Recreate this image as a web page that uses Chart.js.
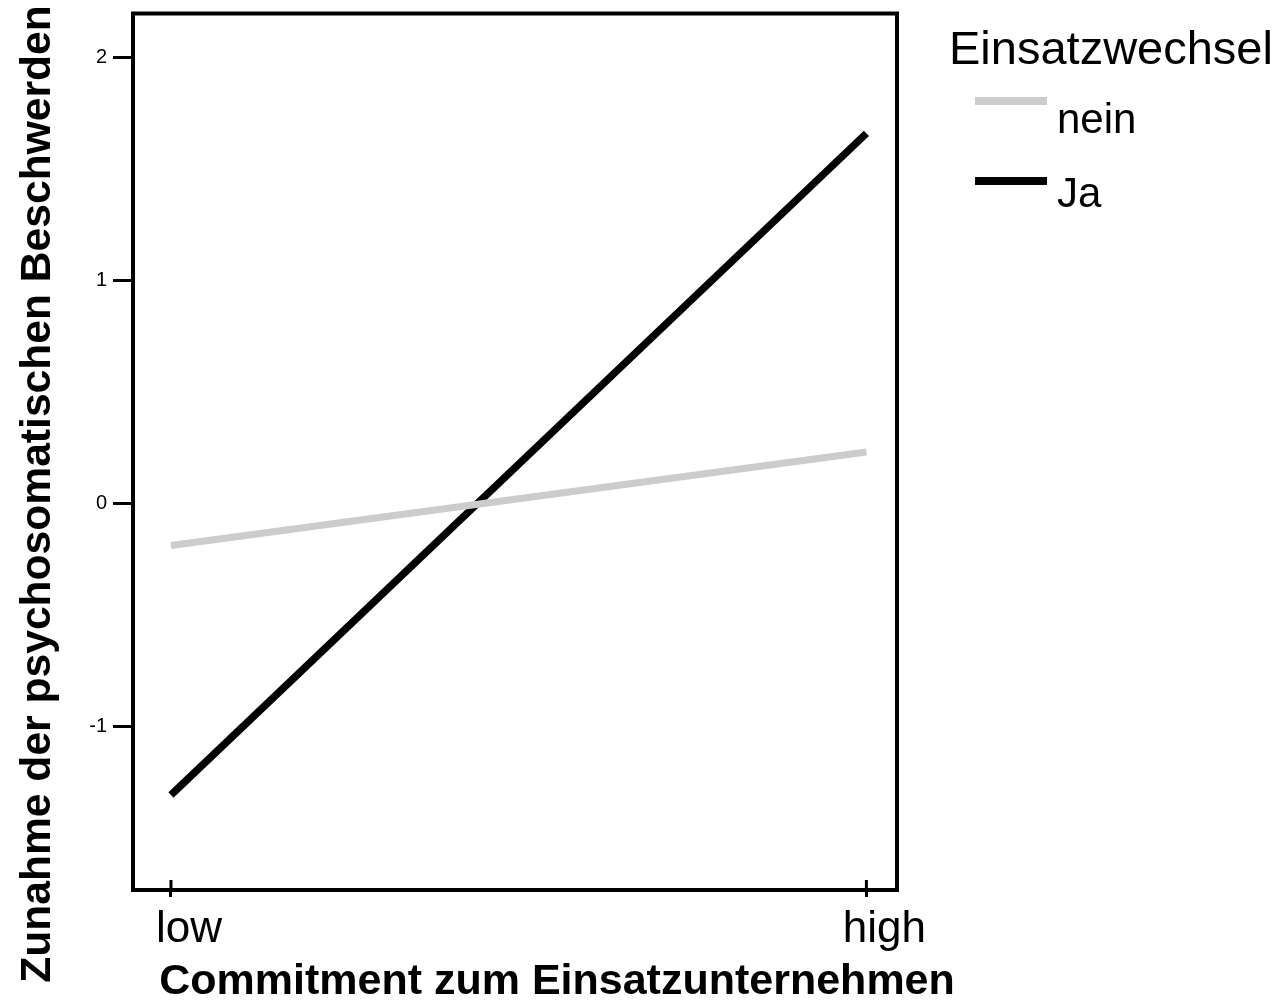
<!DOCTYPE html>
<html>
<head>
<meta charset="utf-8">
<script src="https://cdn.jsdelivr.net/npm/chart.js@4.4.1/dist/chart.umd.min.js"></script>
<style>
  html, body { margin: 0; padding: 0; background: #fff; }
  #wrap { width: 1284px; height: 1004px; position: relative; }
</style>
</head>
<body>
<div id="wrap"><canvas id="myChart"></canvas></div>
<script>
const xLabels = ['low', 'high'];
const xPositions = [0, 1];
const yTicks = [-1, 0, 1, 2];
const seriesNames = ['nein', 'Ja'];
const neinValues = [-0.19, 0.23];
const jaValues = [-1.31, 1.66];

const xTitle = 'Commitment zum Einsatzunternehmen';
const yTitle = 'Zunahme der psychosomatischen Beschwerden';
const legendTitle = 'Einsatzwechsel';

const FONT = '"Liberation Sans", Arial, Helvetica, sans-serif';

// frame, inner part of x ticks, axis titles and legend
const framePlugin = {
    id: 'framePlugin',
    afterDraw(chart) {
        const ctx = chart.ctx;
        const a = chart.chartArea;
        ctx.save();
        ctx.strokeStyle = '#000';
        ctx.lineWidth = 4;
        ctx.beginPath();
        ctx.moveTo(a.left - 2, a.top);
        ctx.lineTo(a.right, a.top);
        ctx.lineTo(a.right, a.bottom + 2);
        ctx.stroke();

        // x ticks cross the axis line
        const xs = chart.scales.x;
        ctx.lineWidth = 3;
        xs.ticks.forEach(t => {
            const px = xs.getPixelForValue(t.value);
            ctx.beginPath();
            ctx.moveTo(px, a.bottom - 10);
            ctx.lineTo(px, a.bottom);
            ctx.stroke();
        });

        ctx.fillStyle = '#000';
        // y title
        ctx.font = 'bold 42.6px ' + FONT;
        ctx.textAlign = 'center';
        ctx.textBaseline = 'alphabetic';
        ctx.save();
        ctx.translate(50, 494);
        ctx.rotate(-Math.PI / 2);
        ctx.fillText(yTitle, 0, 0);
        ctx.restore();
        // x title
        ctx.font = 'bold 43px ' + FONT;
        ctx.fillText(xTitle, 557, 994);

        // legend
        ctx.textAlign = 'left';
        ctx.font = '47px ' + FONT;
        ctx.fillText(legendTitle, 949, 64);
        const rows = [{ lineY: 101, textY: 133 }, { lineY: 181, textY: 207 }];
        ctx.font = '42px ' + FONT;
        chart.data.datasets.forEach((ds, i) => {
            ctx.strokeStyle = ds.borderColor;
            ctx.lineWidth = 8;
            ctx.beginPath();
            ctx.moveTo(975, rows[i].lineY);
            ctx.lineTo(1047, rows[i].lineY);
            ctx.stroke();
            ctx.fillText(ds.label, 1057, rows[i].textY);
        });
        ctx.restore();
    }
};

const toPoints = values => values.map((v, i) => ({ x: xPositions[i], y: v }));

new Chart(document.getElementById('myChart').getContext('2d'), {
    type: 'line',
    data: {
        datasets: [
            { label: seriesNames[0], data: toPoints(neinValues), borderColor: '#cccccc', borderWidth: 7, pointRadius: 0, fill: false },
            { label: seriesNames[1], data: toPoints(jaValues), borderColor: '#000000', borderWidth: 7.5, pointRadius: 0, fill: false }
        ]
    },
    options: {
        responsive: true,
        maintainAspectRatio: false,
        animation: false,
        layout: { padding: { left: 0, top: 13.5, right: 387, bottom: 0 } },
        plugins: {
            legend: { display: false },
            tooltip: { enabled: false }
        },
        scales: {
            x: {
                type: 'linear',
                min: -0.0546,
                max: 1.044,
                afterBuildTicks: scale => { scale.ticks = xPositions.map(v => ({ value: v })); },
                afterFit: scale => {
                    scale.height = 114;
                    scale.paddingLeft = 0;
                    scale.paddingRight = 0;
                },
                ticks: {
                    callback: value => xLabels[xPositions.indexOf(value)],
                    font: { family: FONT, size: 44 },
                    color: '#000',
                    padding: 6,
                    labelOffset: 18,
                    maxRotation: 0,
                    autoSkip: false
                },
                grid: { display: true, drawOnChartArea: false, drawTicks: true, tickLength: 7, tickWidth: 3, tickColor: '#000' },
                border: { display: true, width: 4, color: '#000' }
            },
            y: {
                min: -1.736,
                max: 2.198,
                afterBuildTicks: scale => { scale.ticks = yTicks.map(v => ({ value: v })); },
                afterFit: scale => {
                    scale.width = 133;
                    scale.paddingTop = 0;
                    scale.paddingBottom = 0;
                },
                ticks: {
                    font: { family: FONT, size: 20 },
                    color: '#000',
                    padding: 6
                },
                grid: { display: true, drawOnChartArea: false, drawTicks: true, tickLength: 20, tickWidth: 3, tickColor: '#000' },
                border: { display: true, width: 4, color: '#000' }
            }
        }
    },
    plugins: [framePlugin]
});
</script>
</body>
</html>
